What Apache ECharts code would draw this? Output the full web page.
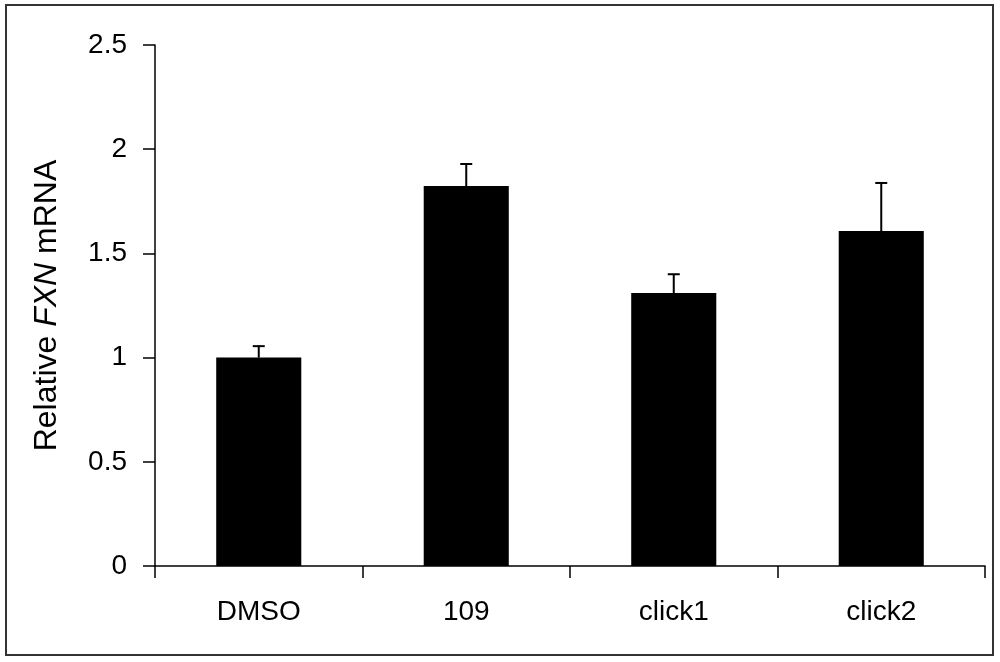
<!DOCTYPE html>
<html><head><meta charset="utf-8">
<script src="https://cdn.jsdelivr.net/npm/echarts@6/dist/echarts.min.js"></script>
<style>html,body{margin:0;padding:0;background:#fff}#c{width:1000px;height:662px}</style>
</head><body><div id="c"></div>
<script>
const categories = ['DMSO', '109', 'click1', 'click2'];
const means = [1.0, 1.823, 1.31, 1.607];
const errTops = [1.055, 1.929, 1.40, 1.838];
const yTicks = [0, 0.5, 1, 1.5, 2, 2.5];

const chart = echarts.init(document.getElementById('c'));
const font = 'Liberation Sans, Arial, sans-serif';
chart.setOption({
  animation: false,
  backgroundColor: '#fff',
  graphic: [{
    type: 'rect', shape: {x: 6, y: 5, width: 987, height: 650},
    style: {fill: 'none', stroke: '#333', lineWidth: 2}
  }],
  grid: {left: 155, right: 15, top: 45, bottom: 96},
  xAxis: {
    type: 'category', data: categories,
    axisLine: {lineStyle: {color: '#000', width: 1.5}},
    axisTick: {show: true, length: 12, lineStyle: {color: '#000', width: 1.5}},
    axisLabel: {color: '#000', fontSize: 28, fontFamily: font, margin: 32}
  },
  yAxis: {
    type: 'value', min: yTicks[0], max: yTicks[yTicks.length - 1], interval: 0.5,
    splitLine: {show: false},
    axisLine: {show: true, lineStyle: {color: '#000', width: 1.5}},
    axisTick: {show: true, length: 12, lineStyle: {color: '#000', width: 1.5}},
    axisLabel: {color: '#000', fontSize: 28, fontFamily: font, margin: 28},
    name: '{n|Relative }{i|FXN}{n| mRNA}',
    nameLocation: 'middle', nameRotate: 90, nameGap: 92,
    nameTextStyle: {
      rich: {
        n: {fontSize: 32, fontFamily: font, color: '#000'},
        i: {fontSize: 32, fontFamily: font, color: '#000', fontStyle: 'italic'}
      }
    }
  },
  series: [{
    type: 'bar', data: means, barWidth: '41%',
    itemStyle: {color: '#000'}
  }, {
    type: 'custom',
    data: categories.map((c, i) => [i, means[i], errTops[i]]),
    z: 5,
    renderItem: function (params, api) {
      const x = api.value(0);
      const p0 = api.coord([x, api.value(1)]);
      const p1 = api.coord([x, api.value(2)]);
      const hw = 6;
      return {
        type: 'group',
        children: [
          {type: 'line', shape: {x1: p0[0], y1: p0[1], x2: p1[0], y2: p1[1]}, style: {stroke: '#000', lineWidth: 2}},
          {type: 'line', shape: {x1: p1[0] - hw, y1: p1[1], x2: p1[0] + hw, y2: p1[1]}, style: {stroke: '#000', lineWidth: 2}}
        ]
      };
    }
  }]
});
</script></body></html>
